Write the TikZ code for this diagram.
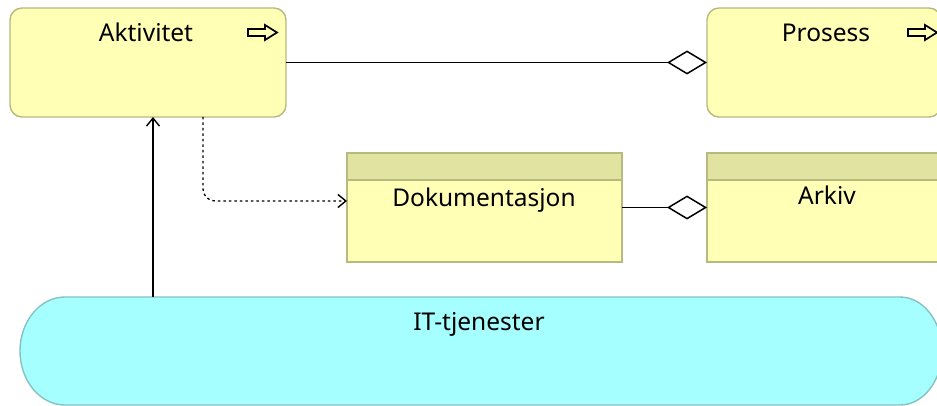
\documentclass[tikz,border=0pt]{standalone}
\usepackage{fontspec}
\setmainfont{Noto Sans}
\usetikzlibrary{arrows.meta}
\definecolor{bizfill}{HTML}{FFFFB5}
\definecolor{bizedge}{HTML}{B7B97E}
\definecolor{bizhead}{HTML}{E1E4A0}
\definecolor{appfill}{HTML}{A6FFFF}
\definecolor{appedge}{HTML}{86C2C2}
\tikzset{
  box/.style={draw=bizedge, fill=bizfill, line width=1.4pt, inner sep=0pt, outer sep=0pt},
  behaviour/.style={box, rounded corners=12pt},
  passive/.style={box, path picture={
      \fill[bizhead] (path picture bounding box.north west) rectangle
        ([yshift=-27pt]path picture bounding box.north east);
      \draw[bizedge, line width=1.4pt] ([yshift=-27pt]path picture bounding box.north west) --
        ([yshift=-27pt]path picture bounding box.north east);}},
  lbl/.style={anchor=base, inner sep=0pt, font=\fontsize{24.5}{28}\selectfont},
  conn/.style={line width=1.5pt, black},
  aggr/.style={conn, -{Diamond[open, fill=white, length=40pt, width=24pt, line width=1.5pt]}},
  barb/.style={-{Straight Barb[length=8pt, width=13pt, line width=1.4pt]}},
  procicon/.style={draw=black, fill=bizfill, line width=1.7pt, line join=miter}
}
\begin{document}
\begin{tikzpicture}[x=1pt, y=-1pt]
\useasboundingbox (0,0) rectangle (937,406);
\clip (0,0) rectangle (937,406);

% business behaviour elements
\node[behaviour, minimum width=276pt, minimum height=109pt] (akt) at (148,62.5) {};
\node[behaviour, minimum width=234pt, minimum height=109pt] (pro) at (824,62.5) {};
\node[lbl] (akt-t) at (146,42) {Aktivitet};
\node[lbl] (pro-t) at (826,42) {Prosess};

% process icons
\draw[procicon] (248,29) -- (265,29) -- (265,25) -- (277,32.5) -- (265,40) -- (265,36) -- (248,36) -- cycle;
\draw[procicon] (908,29) -- (925,29) -- (925,25) -- (937,32.5) -- (925,40) -- (925,36) -- (908,36) -- cycle;

% business objects
\node[passive, minimum width=275pt, minimum height=109pt] (dok) at (484.5,207.5) {};
\node[passive, minimum width=240pt, minimum height=109pt] (ark) at (827,207.5) {};
\node[lbl] (dok-t) at (484,207) {Dokumentasjon};
\node[lbl] (ark-t) at (827,205) {Arkiv};

% application service
\node[minimum width=922pt, minimum height=108pt, inner sep=0pt, outer sep=0pt] (it) at (481,351) {};
\draw[fill=appfill, draw=appedge, line width=1.4pt]
  (65,297) -- (900,297) arc[start angle=-90, end angle=90, x radius=42, y radius=54]
  -- (65,405) arc[start angle=90, end angle=270, x radius=45, y radius=54] -- cycle;
\node[lbl] (it-t) at (479,330) {IT-tjenester};

% connectors
\coordinate (ax) at (153,0);
\coordinate (dx) at (203,0);
\draw[aggr] (akt.east) -- (pro.west);
\draw[aggr] (dok.east) -- (ark.west);
\draw[conn, barb] (it.north -| ax) -- (akt.south -| ax);
\draw[conn, line width=1.3pt, dash pattern=on 2.5pt off 3pt, barb, rounded corners=12pt]
  (akt.south -| dx) |- ([yshift=6.5pt]dok.west);
\end{tikzpicture}
\end{document}
